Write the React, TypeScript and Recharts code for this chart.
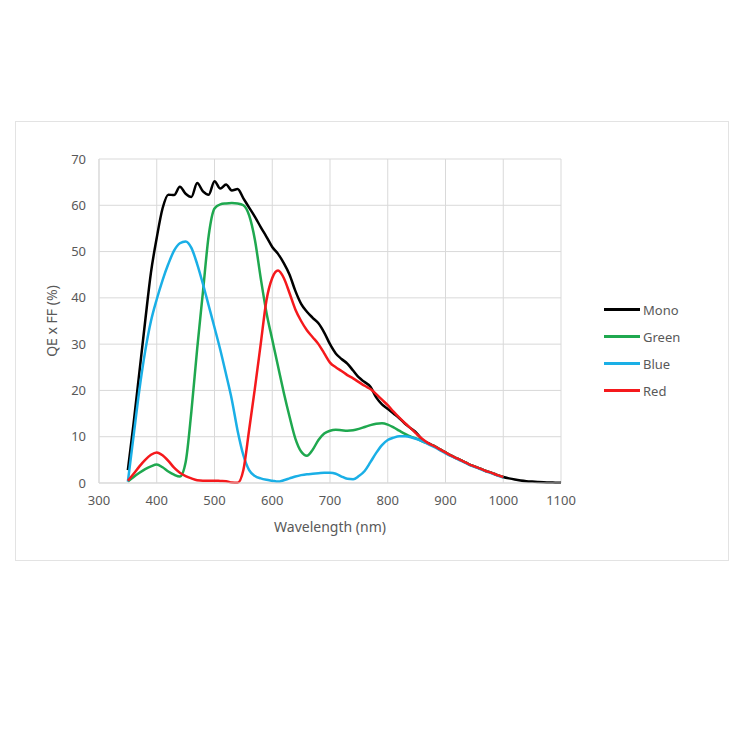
import React from 'react';
import { LineChart, Line, XAxis, YAxis, CartesianGrid } from 'recharts';

const wavelengths = [350,360,370,380,390,400,410,420,430,440,450,460,470,480,490,500,510,520,530,540,550,560,570,580,590,600,610,620,630,640,650,660,670,680,690,700,710,720,730,740,750,760,770,780,790,800,810,820,830,840,850,860,870,880,890,900,910,920,930,940,950,960,970,980,990,1000,1010,1020,1030,1040,1050,1060,1070,1080,1090,1100];

const mono = [2.8,13,24,35,45.5,53,59.3,62.3,62.2,64,62.5,61.8,64.8,63,62.3,65.2,63.6,64.5,63.2,63.5,61.5,59.5,57.5,55.3,53.2,51,49.5,47.5,45,41.5,38.7,37,35.7,34.5,32.5,30,28,26.8,25.8,24.3,22.8,21.8,20.8,18.5,17,16,15,14,12.8,11.8,10.8,9.3,8.6,8,7.3,6.6,5.9,5.3,4.7,4.1,3.6,3.1,2.6,2.2,1.7,1.3,1.0,0.75,0.55,0.4,0.3,0.22,0.15,0.1,0.08,0.05];

const green = [0.3,1.3,2.2,3,3.6,4.0,3.4,2.5,1.8,1.4,4.5,15.5,29,41.3,53.5,59.3,60.2,60.4,60.5,60.4,60,57.8,52.5,44.3,36.8,31,25.2,19.5,14.3,9.6,6.8,5.9,7.2,9.3,10.7,11.3,11.5,11.4,11.3,11.4,11.7,12.1,12.5,12.8,12.9,12.6,12,11.3,10.6,10,9.6,9,8.5,8,7.3,6.6,5.9,5.3,4.7,4.1,3.6,3.1,2.6,2.2,1.7,1.3,null,null,null,null,null,null,null,null,null,null];

const blue = [0.3,10.3,20.2,28.5,35,39.7,43.8,47.3,50.2,51.8,52.2,50.8,47.3,43,38.3,33.6,28.8,23.5,18,11.3,6,2.8,1.5,1.0,0.7,0.5,0.3,0.6,1,1.4,1.7,1.9,2,2.1,2.2,2.2,2,1.4,0.9,0.8,1.5,2.6,4.5,6.5,8.2,9.3,9.8,10.1,10.1,9.9,9.5,9,8.4,7.8,7.1,6.4,5.8,5.2,4.6,4.0,3.5,3.0,2.5,2.1,1.6,1.2,null,null,null,null,null,null,null,null,null,null];

const red = [0.5,2,3.6,5,6.1,6.6,6.0,4.8,3.3,2.2,1.5,1.0,0.6,0.5,0.5,0.5,0.45,0.4,0.1,0.05,2.8,11.5,20.5,30,39.5,44.3,45.9,44.3,41,37.5,35,33,31.5,30,28,26,25,24.2,23.3,22.6,21.8,21,20.3,19.2,18,16.8,15.4,14.1,12.9,11.8,10.6,9.5,8.6,8,7.3,6.6,5.9,5.3,4.7,4.1,3.6,3.1,2.6,2.2,1.7,1.3,null,null,null,null,null,null,null,null,null,null];

const xTicks = [300,400,500,600,700,800,900,1000,1100];
const yTicks = [0,10,20,30,40,50,60,70];

const seriesNames = ['Mono','Green','Blue','Red'];
const seriesColors = ['#000000','#1fa84f','#1aafe6','#f5191c'];
const seriesValues = [mono, green, blue, red];

const data = wavelengths.map((wl, i) => {
  const row: Record<string, number | null> = { wl };
  seriesNames.forEach((n, k) => { row[n] = seriesValues[k][i]; });
  return row;
});

const FONT = '"Noto Sans", "Open Sans", sans-serif';
const TEXT = '#595959';

export default function App() {
  return (
    <div style={{ position: 'absolute', left: 0, top: 0, width: 750, height: 750, background: '#fff' }}>
      <div style={{ position: 'absolute', left: 15, top: 121, width: 712, height: 438, border: '1px solid #e3e3e3' }} />
      <div style={{ position: 'absolute', left: 0, top: 0 }}>
        <LineChart
          width={750}
          height={750}
          data={data}
          margin={{ top: 159, left: 49, right: 189, bottom: 217 }}
        >
          <CartesianGrid stroke="#d9d9d9" strokeWidth={1} />
          <XAxis
            type="number"
            dataKey="wl"
            domain={[300, 1100]}
            ticks={xTicks}
            height={50}
            tickLine={false}
            tickSize={6}
            tickMargin={7}
            axisLine={{ stroke: '#d9d9d9' }}
            tick={{ fill: TEXT, fontSize: 13, fontFamily: FONT }}
            label={{ value: 'Wavelength (nm)', position: 'insideBottom', offset: 1, fill: TEXT, fontSize: 14, fontFamily: FONT }}
          />
          <YAxis
            type="number"
            domain={[0, 70]}
            ticks={yTicks}
            width={50}
            tickLine={false}
            tickSize={6}
            tickMargin={7}
            axisLine={{ stroke: '#d9d9d9' }}
            tick={{ fill: TEXT, fontSize: 13, fontFamily: FONT }}
            label={{ value: 'QE x FF (%)', angle: -90, position: 'insideLeft', offset: 3, fill: TEXT, fontSize: 14, fontFamily: FONT, style: { textAnchor: 'middle' } }}
          />
          {seriesNames.map((n, k) => (
            <Line
              key={n}
              type="monotone"
              dataKey={n}
              stroke={seriesColors[k]}
              strokeWidth={2.5}
              dot={false}
              isAnimationActive={false}
              connectNulls={false}
            />
          ))}
        </LineChart>
      </div>
      <div style={{ position: 'absolute', left: 604, top: 296, fontFamily: FONT, fontSize: 13, color: TEXT }}>
        {seriesNames.map((n, k) => (
          <div key={n} style={{ display: 'flex', alignItems: 'center', height: 27 }}>
            <div style={{ width: 36, height: 3, background: seriesColors[k], marginRight: 3 }} />
            <span>{n}</span>
          </div>
        ))}
      </div>
    </div>
  );
}
